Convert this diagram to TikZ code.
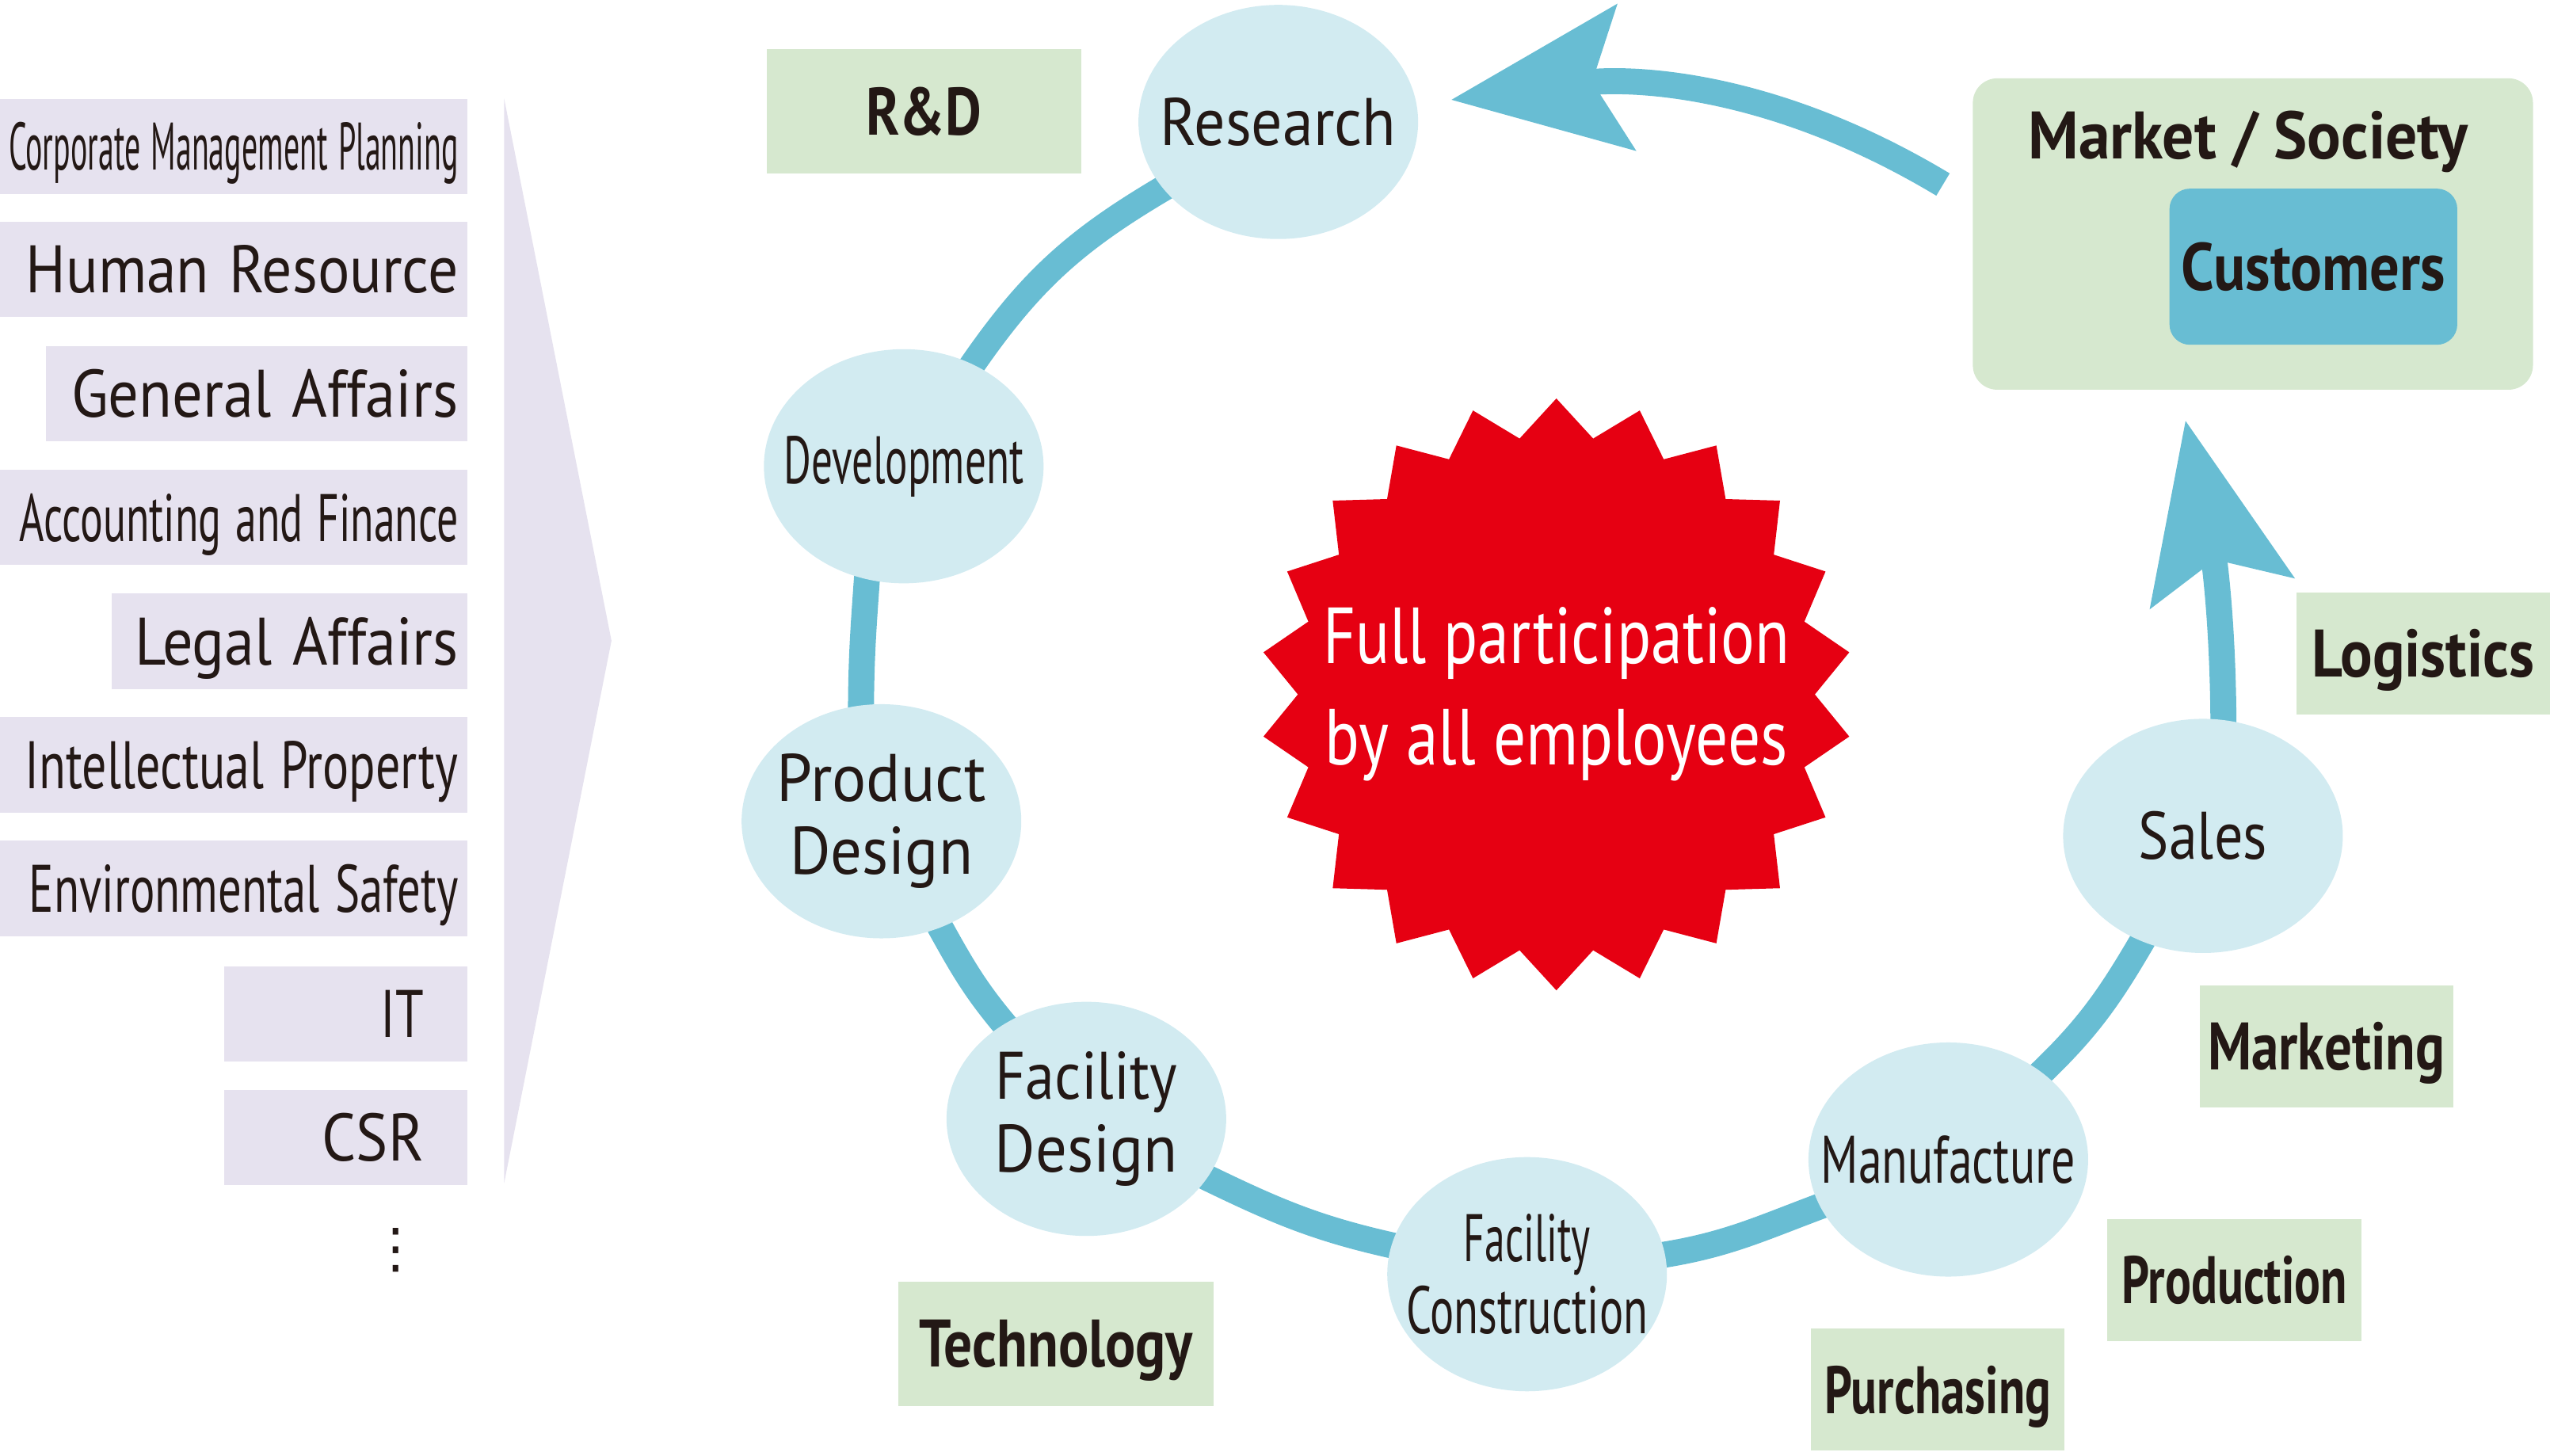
\documentclass[tikz,border=0pt]{standalone}
\usepackage{fontspec}
\setmainfont{PT Sans}
\newfontfamily\symfont{DejaVu Sans}
\usetikzlibrary{shapes.geometric,arrows.meta,backgrounds}

\definecolor{ringBlue}{HTML}{68BDD3}
\definecolor{stageBlue}{HTML}{D2EBF1}
\definecolor{tagGreen}{HTML}{D6E8CF}
\definecolor{deptPurple}{HTML}{E6E2EF}
\definecolor{coreRed}{HTML}{E60012}
\definecolor{inkDark}{HTML}{231815}

\newcommand\labelsize{\fontsize{23.5}{25.5}\selectfont}
% squeeze a line to the width it has in the drawing
\newcommand\fitw[2]{\resizebox{#1}{\height}{#2}}

\tikzset{
  dept/.style={fill=deptPurple, text=inkDark, anchor=east, minimum height=1.17cm, inner xsep=0.11cm, inner ysep=0pt, text height=0.58cm, text depth=0pt, align=right, font=\labelsize},
  stage/.style={ellipse, fill=stageBlue, minimum width=3.44cm, minimum height=2.88cm, inner sep=0pt, label={[stagetext]center:#1}},
  stagetext/.style={text=inkDark, align=center, font=\labelsize},
  tag/.style={fill=tagGreen, text=inkDark, minimum height=1.5cm, inner sep=0pt, text height=0.58cm, text depth=0pt, font=\labelsize\bfseries},
  ring/.style={draw=ringBlue, line width=0.32cm},
  bigarrow/.style={-{Stealth[length=2.15cm, width=1.77cm, inset=0.4cm]}},
}

\begin{document}
\begin{tikzpicture}[x=0.02cm, y=0.02cm]
\useasboundingbox (0,0) rectangle (1568,-895.3);

% departments on the left
\node[dept, text width=5.534cm] at (287.7,-89.9) (cmp) {\fitw{5.53cm}{Corporate Management Planning}};
\node[dept, text width=5.534cm] at (287.7,-165.7) (hr) {\fitw{5.32cm}{Human Resource}};
\node[dept, text width=4.964cm] at (287.7,-242.2) (ga) {\fitw{4.76cm}{General Affairs}};
\node[dept, text width=5.534cm] at (287.7,-318.3) (acc) {\fitw{5.40cm}{Accounting and Finance}};
\node[dept, text width=4.158cm] at (287.7,-394.3) (legal) {\fitw{3.98cm}{Legal Affairs}};
\node[dept, text width=5.534cm] at (287.7,-470.3) (ip) {\fitw{5.33cm}{Intellectual Property}};
\node[dept, text width=5.534cm] at (287.7,-546.3) (env) {\fitw{5.28cm}{Environmental Safety}};
\node[dept, text width=1.92cm, inner xsep=0.535cm] at (287.7,-623.3) (it) {\fitw{0.53cm}{IT}};
\node[dept, text width=1.92cm, inner xsep=0.535cm] at (287.7,-699.3) (csr) {\fitw{1.25cm}{CSR}};
\node[text=inkDark, inner sep=0pt, font=\fontsize{19}{19}\symfont] at (243.2,-768.5) (more) {⋮};

\fill[deptPurple] (310,-60.6) -- (376,-394) -- (310,-727.5) -- cycle;

% cycle of stages
\node[stage={\fitw{2.9cm}{Research}}] at (786,-75) (research) {};
\node[stage={\fitw{2.95cm}{Development}}] at (555.7,-286.7) (development) {};
\node[stage={\fitw{2.57cm}{Product}\\\fitw{2.25cm}{Design}}] at (542,-505) (pdesign) {};
\node[stage={\fitw{2.24cm}{Facility}\\\fitw{2.25cm}{Design}}] at (668,-688) (fdesign) {};
\node[stage={\fitw{1.56cm}{Facility}\\\fitw{2.97cm}{Construction}}] at (939,-783.5) (fconst) {};
\node[stage={\fitw{3.13cm}{Manufacture}}] at (1198,-713) (manufacture) {};
\node[stage={\fitw{1.58cm}{Sales}}] at (1354.6,-514) (sales) {};

% fields
\node[tag, minimum width=3.87cm, minimum height=1.53cm] at (568.1,-68.5) (rd) {\fitw{1.42cm}{R\&D}};
\node[tag, minimum width=3.87cm, minimum height=1.53cm] at (649.3,-826.2) (tech) {\fitw{3.37cm}{Technology}};
\node[tag, minimum width=3.12cm] at (1191.6,-854.5) (purch) {\fitw{2.78cm}{Purchasing}};
\node[tag, minimum width=3.12cm] at (1373.9,-787.2) (prod) {\fitw{2.77cm}{Production}};
\node[tag, minimum width=3.12cm] at (1430.5,-643.5) (mkt) {\fitw{2.91cm}{Marketing}};
\node[tag, minimum width=3.12cm] at (1489.9,-401.7) (logi) {\fitw{2.74cm}{Logistics}};

% market and customers
\node[fill=tagGreen, rounded corners=0.3cm, minimum width=6.89cm, minimum height=3.83cm] at (1385.3,-143.9) (market) {};
\node[anchor=base, text=inkDark, font=\labelsize\bfseries] at (1382.5,-97.8) (society) {\fitw{5.41cm}{Market / Society}};
\node[fill=ringBlue, rounded corners=0.25cm, minimum width=3.54cm, minimum height=1.92cm, text height=0.58cm, text depth=0pt, text=inkDark, font=\labelsize\bfseries] at (1422.5,-164) (customers) {\fitw{3.25cm}{Customers}};

% centre
\node[star, star points=22, star point ratio=1.145, minimum size=7.28cm, inner sep=0pt, fill=coreRed] at (957,-427) (core) {};
\node[text=white, align=center, font=\fontsize{27.8}{35.4}\selectfont] at (core) (motto) {\fitw{5.74cm}{Full participation}\\\fitw{5.69cm}{by all employees}};

\coordinate (mk-out) at ([xshift=-0.36cm]market.170);
\coordinate (mk-in) at ([xshift=-0.83cm, yshift=-0.37cm]market.south);

\begin{pgfonlayer}{background}
\draw[ring, shorten <=-0.2cm, shorten >=-0.2cm] (research) to[out=210, in=56] (development);
\draw[ring, shorten <=-0.2cm, shorten >=-0.2cm] (development.252) to[out=266, in=90] (pdesign.100);
\draw[ring, shorten <=-0.2cm, shorten >=-0.2cm] (pdesign) to[out=299, in=131] (fdesign);
\draw[ring, shorten <=-0.2cm, shorten >=-0.2cm] (fdesign) to[out=334, in=168] (fconst);
\draw[ring, shorten <=-0.2cm, shorten >=-0.2cm] (fconst) to[out=8, in=200] (manufacture);
\draw[ring, shorten <=-0.2cm, shorten >=-0.2cm] (manufacture) to[out=43, in=240] (sales);
\draw[ring, bigarrow, shorten <=-0.2cm] (sales.80) to[out=90, in=-78] (mk-in);
\end{pgfonlayer}
\draw[ring, bigarrow, shorten >=0.42cm] (mk-out) to[out=149, in=7.5] (research);
\end{tikzpicture}
\end{document}
